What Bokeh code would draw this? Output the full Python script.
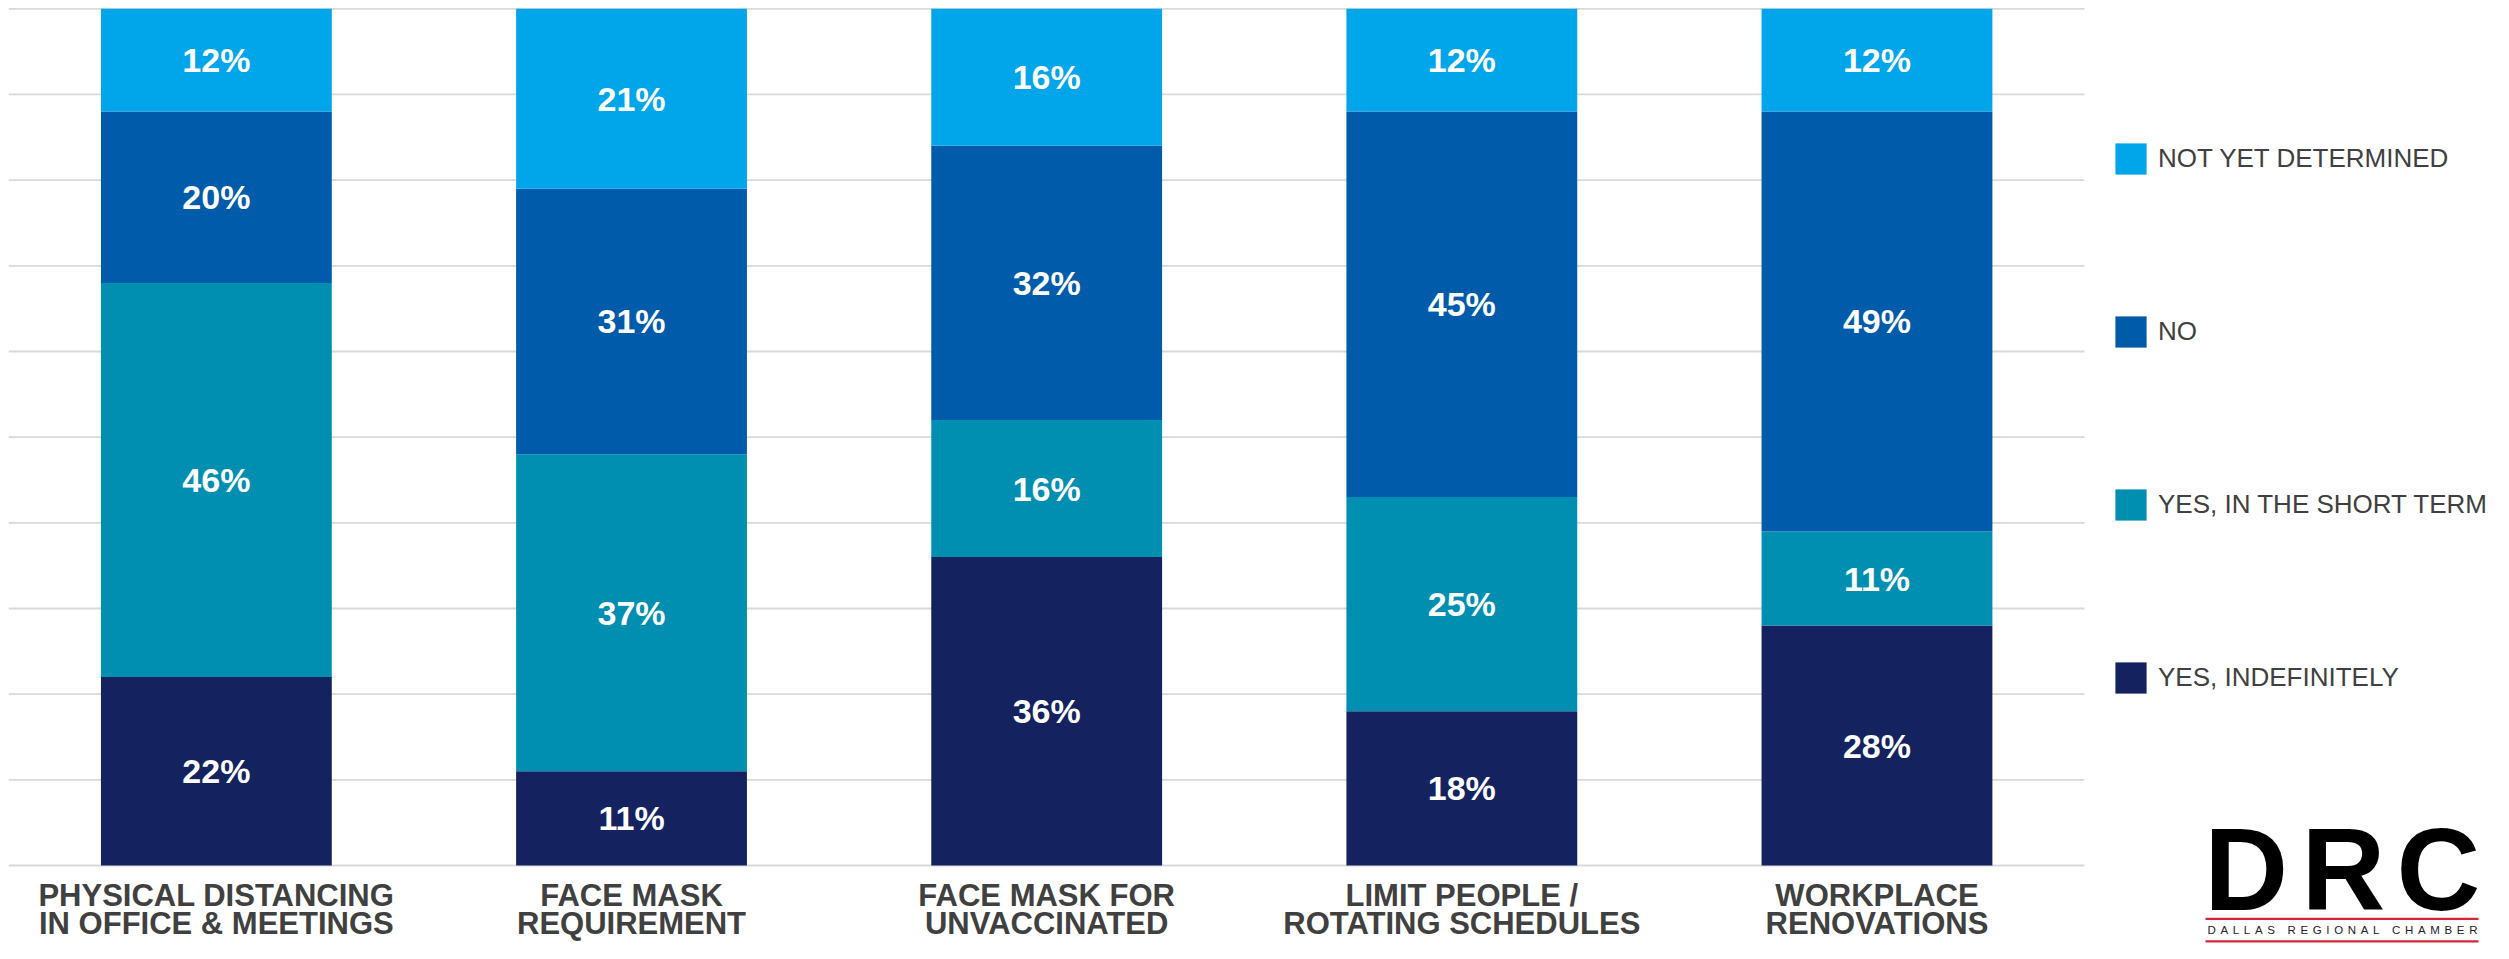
from bokeh.plotting import figure
from bokeh.models import Range1d, ColumnDataSource, Legend, LegendItem, Label, BoxAnnotation
from bokeh.core.properties import value
from bokeh.embed import file_html
from bokeh.resources import INLINE

# ---------------- data ----------------
categories = [
    "PHYSICAL DISTANCING\nIN OFFICE & MEETINGS",
    "FACE MASK\nREQUIREMENT",
    "FACE MASK FOR\nUNVACCINATED",
    "LIMIT PEOPLE /\nROTATING SCHEDULES",
    "WORKPLACE\nRENOVATIONS",
]
series = ["YES, INDEFINITELY", "YES, IN THE SHORT TERM", "NO", "NOT YET DETERMINED"]
yes_indefinitely = [22, 11, 36, 18, 28]
yes_short_term = [46, 37, 16, 25, 11]
no = [20, 31, 32, 45, 49]
not_yet_determined = [12, 21, 16, 12, 12]
colors = ["#14225F", "#008EB1", "#005BAA", "#00A6E9"]
grid_ticks = list(range(0, 101, 10))

# ---------------- geometry (canvas pixels -> data units) ----------------
W, H = 2493, 943
LEFT, TOP, BOTTOM = 8.3, 8.3, 865.0          # plot area edges in pixels
PX_X = 415.15                                 # pixels per category slot
PX_Y = (BOTTOM - TOP) / 100.0                 # pixels per percentage point


def fx(px):
    return (px - LEFT) / PX_X


def fy(py):
    return 100 - (py - TOP) / PX_Y


n = len(categories)
xpos = [i + 0.5 for i in range(n)]
keys = ["yi", "ys", "no", "nd"]
source = ColumnDataSource(dict(x=xpos, cat=categories, yi=yes_indefinitely,
                               ys=yes_short_term, no=no, nd=not_yet_determined))

p = figure(x_range=Range1d(fx(0), fx(W)), y_range=Range1d(fy(H), fy(0)),
           width=W, height=H, output_backend="svg", toolbar_location=None,
           x_axis_location=None, y_axis_location=None,
           min_border_left=0, min_border_right=0, min_border_top=0, min_border_bottom=0)
p.outline_line_color = None
p.background_fill_color = "white"
for g in list(p.grid):
    g.visible = False

# horizontal grid lines across the category area
p.segment(x0=[0] * len(grid_ticks), x1=[n] * len(grid_ticks), y0=grid_ticks, y1=grid_ticks,
          line_color="#D9D9D9", line_width=1.8)

renderers = p.vbar_stack(keys, x="x", width=0.556, color=colors, line_color=None,
                         source=source)

# percentage labels centred in each segment
vals = [yes_indefinitely, yes_short_term, no, not_yet_determined]
xs, ys, ts = [], [], []
for i in range(n):
    bottom = 0
    for v in vals:
        xs.append(xpos[i])
        ys.append(bottom + v[i] / 2.0)
        ts.append(f"{v[i]}%")
        bottom += v[i]
p.text(x="x", y="y", text="t", source=ColumnDataSource(dict(x=xs, y=ys, t=ts)),
       text_align="center", text_baseline="middle", text_color="white",
       text_font=value("Liberation Sans"), text_font_style="bold", text_font_size="34px")

# category labels (two lines)
line1 = [c.split("\n")[0] for c in categories]
line2 = [c.split("\n")[1] for c in categories]
for txt, mid in ((line1, 895.0), (line2, 923.0)):
    p.text(x=xpos, y=[fy(mid)] * n, text=txt,
           text_align="center", text_baseline="middle", text_color="#404040",
           text_font=value("Liberation Sans"), text_font_style="bold", text_font_size="31px")

# legend (top to bottom: NOT YET DETERMINED ... YES, INDEFINITELY)
items = [LegendItem(label=value(s), renderers=[r]) for s, r in zip(series, renderers)][::-1]
leg_h = 4 * 39 + 3 * 134
legend = Legend(items=items, location=(2111, H - 139 - leg_h), orientation="vertical",
                glyph_width=39, glyph_height=39, label_standoff=8, spacing=134,
                label_height=39, padding=0, margin=0, border_line_color=None,
                background_fill_alpha=0, label_text_font="Liberation Sans",
                label_text_font_size="26px", label_text_color="#404040")
p.add_layout(legend, "center")

# DRC logo (decoration)
for ch, cx in (("D", 2245.7), ("R", 2343.0), ("C", 2438.0)):
    p.add_layout(Label(x=fx(cx), y=fy(869.5), text=ch, text_align="center",
                       text_baseline="middle", text_font="Liberation Sans",
                       text_font_style="bold", text_font_size="116px", text_color="black"))
for yline in (918.3, 940.8):
    p.add_layout(BoxAnnotation(left=fx(2205), right=fx(2478), top=fy(yline - 1.1),
                               bottom=fy(yline + 1.1), fill_color="#D7263A", fill_alpha=1,
                               line_color=None, level="overlay"))
small = "DALLAS REGIONAL CHAMBER"
wd = {'D': .722, 'A': .667, 'L': .556, 'S': .667, ' ': .278, 'R': .722, 'E': .667,
      'G': .778, 'I': .278, 'O': .778, 'N': .722, 'C': .722, 'H': .722, 'M': .833, 'B': .667}
fs = 11.5
total = sum(wd[c] * fs for c in small)
track = (270 - total) / (len(small) - 1)
xcur = 2207.0
for ch in small:
    if ch != " ":
        p.add_layout(Label(x=fx(xcur), y=fy(929.8), text=ch, text_align="left",
                           text_baseline="middle", text_font="Liberation Sans",
                           text_font_size=f"{fs}px", text_color="#222222"))
    xcur += wd[ch] * fs + track

open("out.html", "w").write(file_html(p, INLINE))
